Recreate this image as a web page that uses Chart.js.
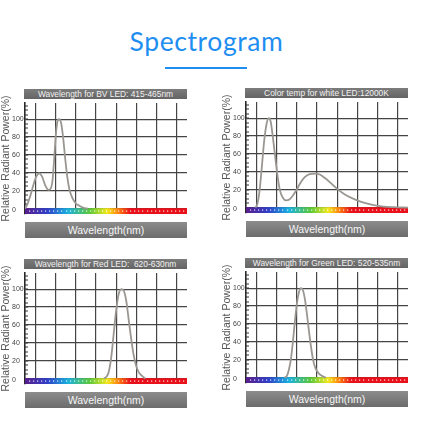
<!DOCTYPE html>
<html>
<head>
<meta charset="utf-8">
<script src="https://cdn.jsdelivr.net/npm/chart.js@4.4.0/dist/chart.umd.min.js"></script>
<style>
  html, body { margin: 0; padding: 0; background: #fff; }
  #page { position: relative; width: 430px; height: 430px; overflow: hidden; font-family: "Liberation Sans", Arial, sans-serif; }
  .heading { position: absolute; left: 0; top: 26px; width: 413px; text-align: center; font-family: Lato, sans-serif; font-size: 26.5px; letter-spacing: 0.6px; line-height: 30px; color: #1f8ef1; }
  .heading-line { position: absolute; left: 165px; top: 67px; width: 82px; height: 2px; background: #1f8ef1; }
  .cap { position: absolute; height: 10px; line-height: 10px; font-size: 8.4px; color: #f2f2f2; text-align: center; white-space: pre; background: linear-gradient(#7c7c7c, #646464); }
  .foot { position: absolute; height: 16px; line-height: 16px; font-size: 10.5px; color: #f5f5f5; text-align: center; background: linear-gradient(#8c8c8c, #6c6c6c); }
  canvas { position: absolute; }
</style>
</head>
<body>
<div id="page">
  <div class="heading">Spectrogram</div>
  <div class="heading-line"></div>
</div>
<script>
// x axis (nm) and y axis (%) ranges
const X_MIN = 375, X_MAX = 775;
const gridWavelengths = [400, 450, 500, 550, 600, 650, 700, 750];
const powerTicks = [0, 20, 40, 60, 80, 100];

// BV LED
const bvWavelength = [375, 381, 388, 396, 403, 410, 417, 425, 433, 439, 443, 447, 451, 455, 459, 464, 469, 474, 479, 485, 492, 500, 510, 522, 530];
const bvPower = [0, 5, 14, 27, 36, 39.5, 36, 26, 21, 23, 32, 55, 82, 97, 100, 96, 80, 57, 37, 21, 12, 6, 3, 0.5, 0];

// white LED 12000K
const whiteWavelength = [398, 403, 408, 414, 420, 426, 431, 436, 441, 447, 453, 459, 466, 474, 482, 490, 500, 510, 520, 532, 545, 557, 570, 583, 600, 620, 645, 670, 700, 740, 775];
const whitePower = [0, 4, 17, 45, 75, 94, 100, 96, 80, 57, 35, 19, 11, 8, 9, 13, 20, 28, 34, 37.5, 38, 37, 33, 28, 21, 14.5, 9, 5, 2, 0.5, 0];

// red LED
const redWavelength = [570, 576, 582, 588, 594, 600, 606, 613, 619, 625, 631, 637, 643, 649, 656, 664, 672];
const redPower = [0, 2, 8, 24, 50, 76, 94, 100, 98, 87, 66, 45, 27, 15, 7, 3, 0];

// green LED
const greenWavelength = [470, 476, 481, 486, 491, 496, 501, 506, 511, 516, 521, 526, 531, 536, 541, 547, 554, 562, 572];
const greenPower = [0, 2, 9, 21, 41, 64, 84, 96, 100, 97, 86, 69, 50, 33, 19, 10, 5, 2, 0];

const captions = [
    'Wavelength for BV LED: 415-465nm',
    'Color temp for white LED:12000K',
    'Wavelength for Red LED:  620-630nm',
    'Wavelength for Green LED: 520-535nm'
];

// colour stops of the spectrum strip, by wavelength
const SPECTRUM = [[375, '#5a1e8c'], [430, '#2f3fc8'], [480, '#1ab0e0'], [535, '#5cc83a'], [578, '#f2e81e'], [603, '#ff8a10'], [635, '#e8101a'], [775, '#e8101a']];

// top-left corner of each plot area on the page
const PANEL_POS = [{ x: 25, y: 103 }, { x: 246, y: 102 }, { x: 25, y: 273 }, { x: 246, y: 272 }];
const PAD_TOP = 12, PAD_BOTTOM = 18;

const spectrumBar = {
    id: 'spectrumBar',
    beforeDatasetsDraw(chart) {
        const { ctx, chartArea: a, scales: { x, y } } = chart;
        const top = y.getPixelForValue(0) - 0.5;
        const bottom = a.bottom;
        const w = a.right - a.left;
        const g = ctx.createLinearGradient(a.left, 0, a.right, 0);
        SPECTRUM.forEach(([nm, c]) => g.addColorStop((x.getPixelForValue(nm) - a.left) / w, c));
        ctx.save();
        ctx.fillStyle = g;
        ctx.fillRect(a.left, top, w, bottom - top);
        // white dots on the strip
        ctx.fillStyle = 'rgba(255,255,255,0.85)';
        const mid = Math.round((top + bottom) / 2) - 0.5;
        for (let nm = 385; nm < X_MAX; nm += 10) {
            ctx.fillRect(Math.round(x.getPixelForValue(nm)), mid, 1.2, 1.2);
        }
        // small dashes on the y axis
        ctx.fillStyle = '#333';
        for (let v = 5; v <= 115; v += 5) {
            ctx.fillRect(a.left, Math.round(y.getPixelForValue(v)) - 0.5, 3, 1);
        }
        // tick labels, left aligned
        ctx.font = '7px "Liberation Sans", Arial, sans-serif';
        ctx.fillStyle = '#444';
        ctx.textAlign = 'left';
        ctx.textBaseline = 'middle';
        powerTicks.forEach(v => ctx.fillText(String(v), a.left - 13, y.getPixelForValue(v) + (v === 0 ? 1 : 0)));
        ctx.restore();
    }
};

function MakePanel(i, wavelengths, power) {
    const page = document.getElementById('page');
    const pos = PANEL_POS[i];

    let cap = document.createElement('div');
    cap.className = 'cap';
    cap.style.left = (pos.x - 1) + 'px';
    cap.style.top = (pos.y - 14) + 'px';
    cap.style.width = '163px';
    cap.textContent = captions[i];
    page.appendChild(cap);

    let canvas = document.createElement('canvas');
    canvas.width = 187;
    canvas.height = 111 + PAD_TOP + PAD_BOTTOM;
    canvas.style.left = (pos.x - 25) + 'px';
    canvas.style.top = (pos.y - PAD_TOP) + 'px';
    page.appendChild(canvas);

    let foot = document.createElement('div');
    foot.className = 'foot';
    foot.style.left = pos.x + 'px';
    foot.style.top = (pos.y + 118.5) + 'px';
    foot.style.width = '162px';
    foot.textContent = 'Wavelength(nm)';
    page.appendChild(foot);

    new Chart(canvas.getContext('2d'), {
        type: 'line',
        data: {
            datasets: [{
                data: wavelengths.map((nm, k) => ({ x: nm, y: power[k] })),
                borderColor: '#9a9792',
                borderWidth: 1.8,
                pointRadius: 0,
                fill: false,
                cubicInterpolationMode: 'monotone'
            }]
        },
        options: {
            responsive: false,
            animation: false,
            layout: { padding: { top: PAD_TOP, bottom: PAD_BOTTOM, left: 0, right: 0 } },
            plugins: { legend: { display: false }, tooltip: { enabled: false } },
            scales: {
                x: {
                    type: 'linear',
                    min: X_MIN,
                    max: X_MAX,
                    afterBuildTicks: s => { s.ticks = gridWavelengths.map(v => ({ value: v })); },
                    afterFit: s => { s.height = 0; },
                    ticks: { display: false },
                    grid: { color: '#454545', lineWidth: 1.2, drawTicks: false },
                    border: { display: false }
                },
                y: {
                    min: -6,
                    max: 118,
                    afterBuildTicks: s => { s.ticks = powerTicks.map(v => ({ value: v })); },
                    afterFit: s => { s.width = 25; },
                    ticks: { display: false },
                    grid: { color: '#454545', lineWidth: 1.2, drawTicks: false },
                    border: { display: true, color: '#2a2a2a', width: 1.6 },
                    title: {
                        display: true,
                        text: 'Relative Radiant Power(%)',
                        color: '#555',
                        padding: 0,
                        font: { size: 10.5, family: '"Liberation Sans", Arial, sans-serif' }
                    }
                }
            }
        },
        plugins: [spectrumBar]
    });
}

window.onload = function () {
    MakePanel(0, bvWavelength, bvPower);
    MakePanel(1, whiteWavelength, whitePower);
    MakePanel(2, redWavelength, redPower);
    MakePanel(3, greenWavelength, greenPower);
};
</script>
</body>
</html>
